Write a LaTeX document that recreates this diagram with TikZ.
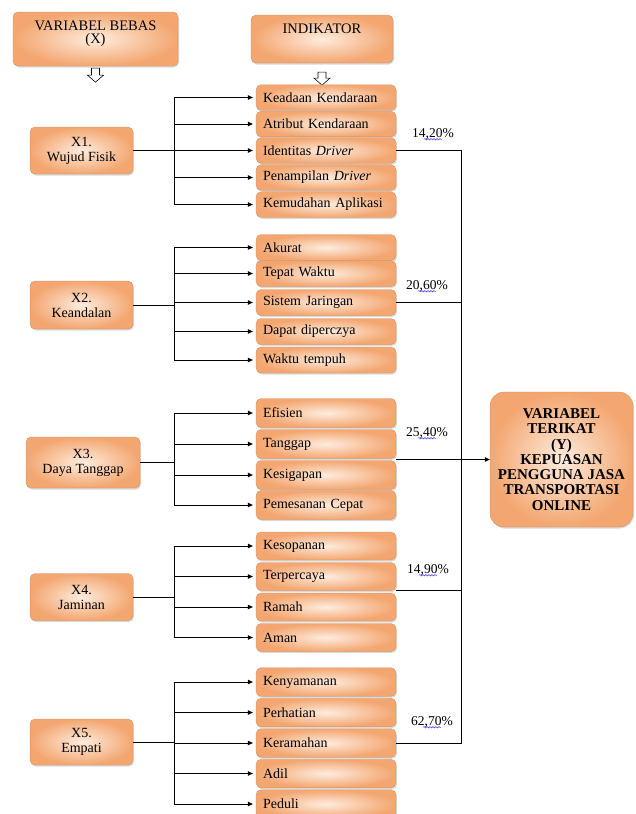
\documentclass[tikz,border=0pt]{standalone}
\usepackage{fontspec}
\setmainfont{Liberation Serif}
\usetikzlibrary{arrows.meta, shadows, decorations.pathmorphing}

\definecolor{boxedge}{RGB}{243,166,112}
\definecolor{boxmid}{RGB}{254,236,222}

\tikzset{
    orangebox/.style={rounded corners=5pt, inner color=boxmid, outer color=boxedge,
        draw=boxedge!85!black, line width=0.3pt,
        drop shadow={shadow xshift=1pt, shadow yshift=-1.5pt, opacity=0.3},
        font=\fontsize{14}{15}\selectfont},
    hdrbox/.style={orangebox, align=center, inner ysep=0pt, font=\fontsize{14.5}{13}\selectfont},
    varbox/.style={orangebox, align=center, minimum width=103pt, minimum height=47pt},
    indbox/.style={orangebox, text width=126pt, inner xsep=7pt, align=left},
    arr/.style={-{Triangle[length=5pt,width=4.5pt]}, line width=0.9pt, shorten >=3pt},
    link/.style={line width=0.9pt},
    hollow/.style={draw=black, fill=white, line width=0.6pt},
    pct/.style={font=\fontsize{13.5}{14}\selectfont, inner sep=0pt},
    spellmark/.style={draw=blue!80, line width=0.5pt,
        decorate, decoration={snake, segment length=3pt, amplitude=0.7pt}}
}

\begin{document}
\begin{tikzpicture}[x=1pt, y=-1pt]
    \useasboundingbox (0,0) rectangle (635,814);

    % headers
    \node[hdrbox, minimum width=165pt, text height=31pt, text depth=23pt] (hx) at (95.5,39)
        {VARIABEL BEBAS\\(X)};
    \node[hdrbox, minimum width=142pt, text height=18pt, text depth=30pt] (hi) at (322,39) {INDIKATOR};
    \draw[hollow] ([xshift=-4pt,yshift=-2pt]hx.south) -- ++(0,7) -- ++(-4,0) -- ++(8,7)
        -- ++(8,-7) -- ++(-4,0) -- ++(0,-7) -- cycle;
    \draw[hollow] ([xshift=-4pt,yshift=-9pt]hi.south) -- ++(0,6) -- ++(-4,0) -- ++(8,7)
        -- ++(8,-7) -- ++(-4,0) -- ++(0,-6) -- cycle;

    % independent variables
    \node[varbox] (x1) at (81.5,150.5) {X1.\\Wujud Fisik};
    \node[varbox, minimum height=48pt] (x2) at (81.5,305) {X2.\\Keandalan};
    \node[varbox, minimum width=114pt, minimum height=51pt] (x3) at (83,462.5) {X3.\\Daya Tanggap};
    \node[varbox] (x4) at (81.5,597) {X4.\\Jaminan};
    \node[varbox, minimum height=46pt] (x5) at (81.5,742) {X5.\\Empati};

    % indicators
    \foreach \nm/\yy/\txt in {k11/97.5/Keadaan Kendaraan, k12/124/Atribut Kendaraan,
        k13/150.5/{Identitas \textit{Driver}}, k14/177.5/{Penampilan \textit{Driver}},
        k15/204.5/Kemudahan Aplikasi}
        \node[indbox, minimum height=25.5pt] (\nm) at (326,\yy) {\txt};
    \foreach \nm/\yy/\txt in {k21/247.5/Akurat, k22/273.5/Tepat Waktu, k23/302.5/Sistem Jaringan,
        k24/331.5/Dapat diperczya, k25/360/Waktu tempuh}
        \node[indbox, minimum height=26pt] (\nm) at (326,\yy) {\txt};
    \foreach \nm/\yy/\txt in {k31/413/Efisien, k32/444/Tanggap, k33/475/Kesigapan,
        k34/505/Pemesanan Cepat}
        \node[indbox, minimum height=29pt] (\nm) at (326,\yy) {\txt};
    \foreach \nm/\yy/\txt in {k41/546/Kesopanan, k42/576.5/Terpercaya, k43/607/Ramah,
        k44/637.5/Aman}
        \node[indbox, minimum height=28pt] (\nm) at (326,\yy) {\txt};
    \foreach \nm/\yy/\txt in {k51/682/Kenyamanan, k52/712.5/Perhatian, k53/743/Keramahan,
        k54/773.5/Adil, k55/804/Peduli}
        \node[indbox, minimum height=28.5pt] (\nm) at (326,\yy) {\txt};

    % dependent variable
    \node[orangebox, align=center, font=\bfseries\fontsize{15}{15.3}\selectfont, inner xsep=1pt,
        minimum width=143pt, minimum height=135pt, rounded corners=14pt] (Y) at (561.5,459.5)
        {VARIABEL\\TERIKAT\\(Y)\\KEPUASAN\\PENGGUNA JASA\\TRANSPORTASI\\ONLINE};

    % branches
    \coordinate (t) at (174,0);
    \foreach \g/\a/\b in {1/1/5, 2/1/5, 3/1/4, 4/1/4, 5/1/5} {
        \draw[link] (x\g.east) -- (x\g.east -| t);
        \draw[link] (k\g\a.west -| t) -- (k\g\b.west -| t);
        \foreach \i in {\a,...,\b}
            \draw[arr] (k\g\i.west -| t) -- (k\g\i.west);
    }

    % to the dependent variable
    \coordinate (v) at (461,0);
    \draw[link] (k13.east) -- (k13.east -| v) -- (k53.east -| v) -- (k53.east);
    \draw[link] (k23.east) -- (k23.east -| v);
    \draw[link] (k42.south east) -- (k42.south east -| v);
    \draw[arr, shorten >=0pt] (Y.west -| k32.east) -- (Y.west);

    % percentages
    \node[pct] (p1) at (433,134) {14,20\%};
    \node[pct] (p2) at (427,286) {20,60\%};
    \node[pct] (p3) at (427,433) {25,40\%};
    \node[pct] (p4) at (428,570) {14,90\%};
    \node[pct] (p5) at (432,722) {62,70\%};
    \foreach \p in {p1,p2,p3,p4,p5}
        \draw[spellmark] ([xshift=-9pt,yshift=-1.8pt]\p.base) -- ([xshift=9pt,yshift=-1.8pt]\p.base);
\end{tikzpicture}
\end{document}
